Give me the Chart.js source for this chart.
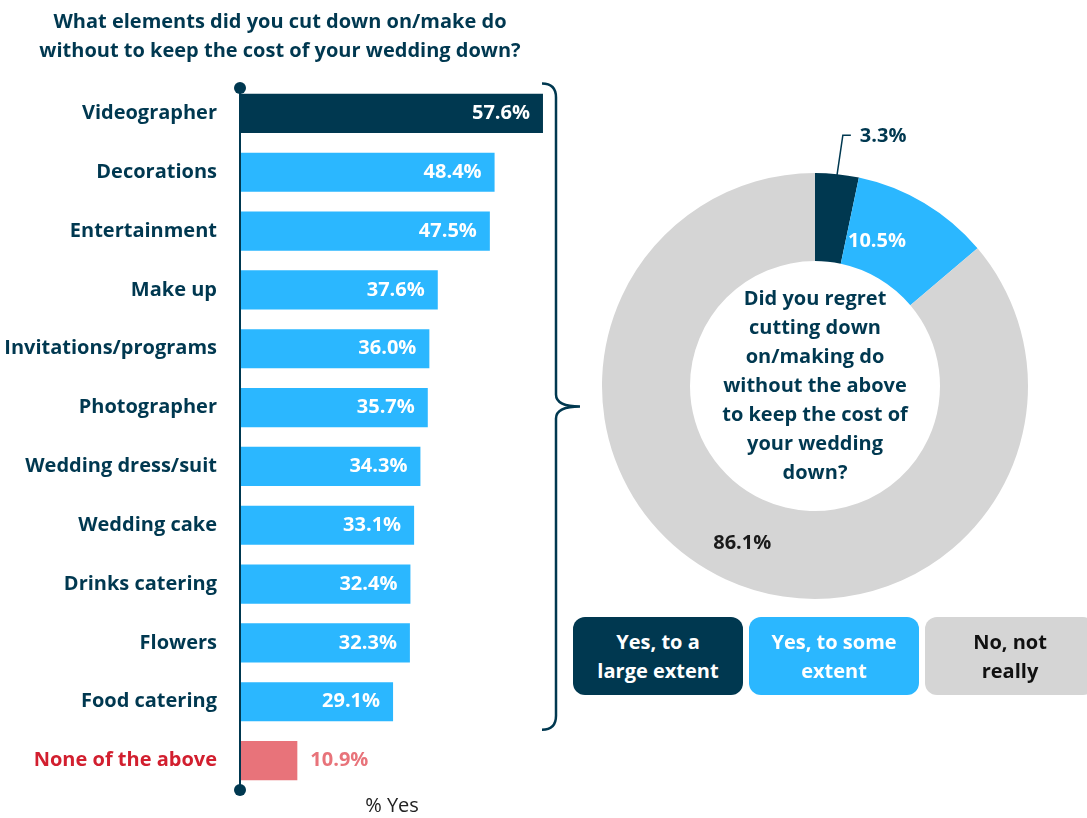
<!DOCTYPE html>
<html>
<head>
<meta charset="utf-8">
<script src="https://cdn.jsdelivr.net/npm/chart.js@4.4.1/dist/chart.umd.min.js"></script>
<style>
  html, body { margin: 0; padding: 0; background: #fff; }
  body { width: 1087px; height: 818px; position: relative; overflow: hidden; font-family: "Open Sans", sans-serif; }
  #barWrap { position: absolute; left: 0; top: 0; width: 600px; height: 818px; }
  #pieWrap { position: absolute; left: 580px; top: 100px; width: 470px; height: 520px; }
  .key { position: absolute; top: 617px; width: 170px; height: 78px; border-radius: 12px;
         display: flex; align-items: center; justify-content: center; text-align: center;
         font: bold 20px "Open Sans", sans-serif; line-height: 29px; }
</style>
</head>
<body>
<div id="barWrap"><canvas id="barChart"></canvas></div>
<div id="pieWrap"><canvas id="pieChart"></canvas></div>
<div class="key" style="left:573px;background:#003850;color:#fff">Yes, to a<br>large extent</div>
<div class="key" style="left:749px;background:#2bb7ff;color:#fff">Yes, to some<br>extent</div>
<div class="key" style="left:925px;background:#d5d5d5;color:#111">No, not<br>really</div>

<script>
// ===== DATA =====
const categories = ['Videographer', 'Decorations', 'Entertainment', 'Make up', 'Invitations/programs',
  'Photographer', 'Wedding dress/suit', 'Wedding cake', 'Drinks catering', 'Flowers', 'Food catering',
  'None of the above'];
const yesValues = [57.6, 48.4, 47.5, 37.6, 36.0, 35.7, 34.3, 33.1, 32.4, 32.3, 29.1, 10.9];

const regretLabels = ['Yes, to a large extent', 'Yes, to some extent', 'No, not really'];
const regretValues = [3.3, 10.5, 86.1];

const titleLines = ['What elements did you cut down on/make do', 'without to keep the cost of your wedding down?'];
const centerLines = ['Did you regret', 'cutting down', 'on/making do', 'without the above', 'to keep the cost of', 'your wedding', 'down?'];

const NAVY = '#003850';
const BLUE = '#2bb7ff';
const PINK = '#e8737a';
const RED = '#d21f2f';
const GREY = '#d5d5d5';
const FONT = '"Open Sans", sans-serif';
const FS = 20;

const barColors = yesValues.map((v, i) => i === 0 ? NAVY : (i === yesValues.length - 1 ? PINK : BLUE));

// ===== BAR CHART EXTRAS =====
const barExtras = {
  id: 'barExtras',
  afterDraw(chart) {
    const { ctx, chartArea } = chart;
    const meta = chart.getDatasetMeta(0);
    ctx.save();

    // title
    ctx.fillStyle = NAVY;
    ctx.font = `bold ${FS}px ${FONT}`;
    ctx.textAlign = 'center';
    ctx.textBaseline = 'middle';
    titleLines.forEach((t, i) => ctx.fillText(t, 280, 22 + i * 29));

    // axis line with end dots
    const x0 = chartArea.left;
    ctx.strokeStyle = NAVY;
    ctx.lineWidth = 2;
    ctx.beginPath();
    ctx.moveTo(x0, chartArea.top + 4);
    ctx.lineTo(x0, chartArea.bottom);
    ctx.stroke();
    ctx.fillStyle = NAVY;
    [chartArea.top + 4, chartArea.bottom].forEach(y => {
      ctx.beginPath();
      ctx.arc(x0, y, 6, 0, Math.PI * 2);
      ctx.fill();
    });

    // value labels
    ctx.font = `bold ${FS}px ${FONT}`;
    meta.data.forEach((bar, i) => {
      const txt = yesValues[i].toFixed(1) + '%';
      if (i === yesValues.length - 1) {
        ctx.fillStyle = PINK;
        ctx.textAlign = 'left';
        ctx.fillText(txt, bar.x + 13, bar.y);
      } else {
        ctx.fillStyle = '#fff';
        ctx.textAlign = 'right';
        ctx.fillText(txt, bar.x - 13, bar.y);
      }
    });

    // axis caption
    ctx.fillStyle = '#222';
    ctx.font = `20px ${FONT}`;
    ctx.textAlign = 'center';
    ctx.fillText('% Yes', 392, 806);

    // brace spanning the first eleven bars
    const top = meta.data[0].y - 30, bot = meta.data[yesValues.length - 2].y + 28;
    const mid = (top + bot) / 2;
    const xv = 556, xe = 542, xt = 580;
    ctx.strokeStyle = NAVY;
    ctx.lineWidth = 2.5;
    ctx.beginPath();
    ctx.moveTo(xe, top);
    ctx.quadraticCurveTo(xv, top, xv, top + 14);
    ctx.lineTo(xv, mid - 12);
    ctx.quadraticCurveTo(xv, mid, xt, mid);
    ctx.quadraticCurveTo(xv, mid, xv, mid + 12);
    ctx.lineTo(xv, bot - 14);
    ctx.quadraticCurveTo(xv, bot, xe, bot);
    ctx.stroke();

    ctx.restore();
  }
};

new Chart(document.getElementById('barChart'), {
  type: 'bar',
  data: {
    labels: categories,
    datasets: [{
      data: yesValues,
      backgroundColor: barColors,
      borderWidth: 0,
      categoryPercentage: 1,
      barPercentage: 0.665
    }]
  },
  options: {
    indexAxis: 'y',
    responsive: true,
    maintainAspectRatio: false,
    animation: false,
    layout: { padding: { top: 84, bottom: 28, left: 0, right: 44.4 } },
    plugins: { legend: { display: false }, tooltip: { enabled: false } },
    scales: {
      x: { display: false, min: 0, max: 60 },
      y: {
        grid: { display: false },
        border: { display: false },
        afterFit(scale) { scale.width = 240; },
        ticks: {
          padding: 15,
          font: { family: FONT, size: FS, weight: 'bold' },
          color: c => c.index === categories.length - 1 ? RED : NAVY
        }
      }
    }
  },
  plugins: [barExtras]
});

// ===== DOUGHNUT =====
const labelFrac = [0.5, 0.3, 0.5];
const pieExtras = {
  id: 'pieExtras',
  afterDraw(chart) {
    const { ctx } = chart;
    const arcs = chart.getDatasetMeta(0).data;
    const cx = arcs[0].x, cy = arcs[0].y;
    const outer = arcs[0].outerRadius, inner = arcs[0].innerRadius;
    ctx.save();
    ctx.textBaseline = 'middle';

    // center question
    ctx.fillStyle = NAVY;
    ctx.font = `bold ${FS}px ${FONT}`;
    ctx.textAlign = 'center';
    const lh = 29;
    centerLines.forEach((t, i) => ctx.fillText(t, cx, cy + (i - (centerLines.length - 1) / 2) * lh));

    arcs.forEach((a, i) => {
      const txt = regretValues[i].toFixed(1) + '%';
      const ang = a.startAngle + (a.endAngle - a.startAngle) * labelFrac[i];
      if (i === 0) {
        // leader line for the small slice
        const sx = cx + Math.cos(ang) * (outer - 2), sy = cy + Math.sin(ang) * (outer - 2);
        const ex = sx + 6, ey = sy - 41;
        ctx.strokeStyle = NAVY;
        ctx.lineWidth = 1.5;
        ctx.beginPath();
        ctx.moveTo(sx, sy);
        ctx.lineTo(ex, ey);
        ctx.lineTo(ex + 8, ey);
        ctx.stroke();
        ctx.fillStyle = NAVY;
        ctx.textAlign = 'left';
        ctx.fillText(txt, ex + 17, ey + 1);
      } else {
        const r = i === 1 ? 157 : (outer + inner) / 2 + 4;
        ctx.fillStyle = i === 1 ? '#fff' : '#1a1a1a';
        ctx.textAlign = 'center';
        ctx.fillText(txt, cx + Math.cos(ang) * r, cy + Math.sin(ang) * r);
      }
    });
    ctx.restore();
  }
};

new Chart(document.getElementById('pieChart'), {
  type: 'doughnut',
  data: {
    labels: regretLabels,
    datasets: [{
      data: regretValues,
      backgroundColor: [NAVY, BLUE, GREY],
      borderWidth: 0
    }]
  },
  options: {
    responsive: true,
    maintainAspectRatio: false,
    animation: false,
    cutout: 125,
    layout: { padding: { top: 73, bottom: 21, left: 22, right: 22 } },
    plugins: { legend: { display: false }, tooltip: { enabled: false } }
  },
  plugins: [pieExtras]
});
</script>
</body>
</html>
